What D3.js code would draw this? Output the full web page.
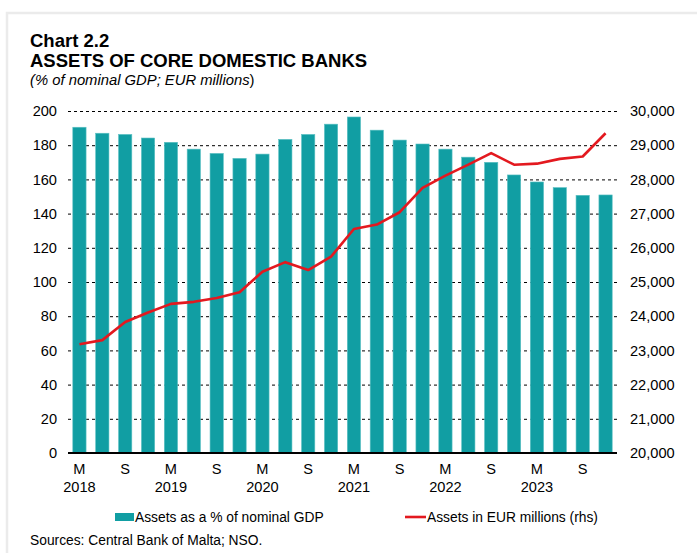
<!DOCTYPE html>
<html><head><meta charset="utf-8">
<script src="https://cdn.jsdelivr.net/npm/d3@7/dist/d3.min.js"></script>
<style>body{margin:0;background:#fff;}svg{display:block;font-family:"Liberation Sans",Arial,sans-serif;}</style>
</head><body>
<script>
const quarters = ["Mar 2018","Jun 2018","Sep 2018","Dec 2018","Mar 2019","Jun 2019","Sep 2019","Dec 2019","Mar 2020","Jun 2020","Sep 2020","Dec 2020","Mar 2021","Jun 2021","Sep 2021","Dec 2021","Mar 2022","Jun 2022","Sep 2022","Dec 2022","Mar 2023","Jun 2023","Sep 2023","Dec 2023"];
const xLabels = ["M","","S","","M","","S","","M","","S","","M","","S","","M","","S","","M","","S",""];
const yearLabels = ["2018","","","","2019","","","","2020","","","","2021","","","","2022","","","","2023","","",""];
const pctGDP = [190.5,187,186.3,184.2,181.7,177.7,175.2,172.3,174.8,183.4,186.3,192.3,196.5,188.8,183,180.7,177.7,173,170,162.6,158.5,155.2,150.7,150.9];
const assetsEUR = [23180,23300,23830,24110,24360,24420,24530,24700,25300,25580,25350,25740,26550,26680,27040,27750,28110,28430,28770,28430,28460,28600,28670,29350];
const leftTicks = [0,20,40,60,80,100,120,140,160,180,200];
const rightTicks = [20000,21000,22000,23000,24000,25000,26000,27000,28000,29000,30000];

const W=697,H=553;
const svg=d3.select("body").append("svg").attr("width",W).attr("height",H);
// frame
svg.append("path").attr("d","M7,553 L7,13 L697,13").attr("fill","none").attr("stroke","#ebebeb").attr("stroke-width",2.5);

const m={l:68,r:617,t:111,b:453};
const x=d3.scaleBand().domain(quarters).range([m.l,m.r]).paddingInner(0.42).paddingOuter(0.21);
const yL=d3.scaleLinear().domain([0,200]).range([m.b,m.t]);
const yR=d3.scaleLinear().domain([20000,30000]).range([m.b,m.t]);

// gridlines
svg.append("g").selectAll("line").data(leftTicks.filter(d=>d>0)).join("line")
  .attr("x1",m.l).attr("x2",m.r).attr("y1",d=>yL(d)+0.5).attr("y2",d=>yL(d)+0.5)
  .attr("stroke","#000").attr("stroke-width",1).attr("stroke-dasharray","3,3");

// bars
svg.append("g").selectAll("rect").data(pctGDP).join("rect")
  .attr("x",(d,i)=>x(quarters[i])).attr("width",x.bandwidth())
  .attr("y",d=>yL(d)).attr("height",d=>yL(0)-yL(d))
  .attr("fill","#119ea3").attr("stroke","#5cc0c3").attr("stroke-width",0.6);

// zero line
svg.append("line").attr("x1",m.l).attr("x2",m.r).attr("y1",m.b).attr("y2",m.b).attr("stroke","#000").attr("stroke-width",2);

// line
const line=d3.line().x((d,i)=>x(quarters[i])+x.bandwidth()/2).y(d=>yR(d));
svg.append("path").datum(assetsEUR).attr("d",line).attr("fill","none").attr("stroke","#e3191f").attr("stroke-width",2.6).attr("stroke-linejoin","round");

const FS=14.6;
// left axis
const axL=d3.axisLeft(yL).tickValues(leftTicks).tickSize(0).tickPadding(0);
const gL=svg.append("g").attr("transform",`translate(${m.l-11},0)`).call(axL);
gL.select(".domain").remove();
gL.selectAll("text").attr("font-size",FS).attr("fill","#000").attr("font-family","Liberation Sans, Arial, sans-serif");

// right axis
const axR=d3.axisRight(yR).tickValues(rightTicks).tickSize(0).tickPadding(0).tickFormat(d3.format(","));
const gR=svg.append("g").attr("transform",`translate(${m.r+13},0)`).call(axR);
gR.select(".domain").remove();
gR.selectAll("text").attr("font-size",FS).attr("fill","#000").attr("font-family","Liberation Sans, Arial, sans-serif");

// x labels
const gx=svg.append("g");
gx.selectAll("text.q").data(xLabels).join("text").attr("class","q")
  .attr("x",(d,i)=>x(quarters[i])+x.bandwidth()/2).attr("y",474).attr("text-anchor","middle")
  .attr("font-size",FS).text(d=>d);
gx.selectAll("text.yr").data(yearLabels).join("text").attr("class","yr")
  .attr("x",(d,i)=>x(quarters[i])+x.bandwidth()/2).attr("y",492).attr("text-anchor","middle")
  .attr("font-size",FS).text(d=>d);

// titles
svg.append("text").attr("x",30).attr("y",47).attr("font-size",18.5).attr("font-weight","bold").text("Chart 2.2");
svg.append("text").attr("x",30).attr("y",67).attr("font-size",18.5).attr("font-weight","bold").text("ASSETS OF CORE DOMESTIC BANKS");
const st=svg.append("text").attr("x",30).attr("y",85).attr("font-size",14.8);
st.append("tspan").attr("font-style","italic").text("(% of nominal GDP; EUR millions");
st.append("tspan").text(")");

// legend
svg.append("rect").attr("x",115).attr("y",513).attr("width",19).attr("height",8).attr("fill","#119ea3");
svg.append("text").attr("x",135).attr("y",522).attr("font-size",13.8).text("Assets as a % of nominal GDP");
svg.append("line").attr("x1",405).attr("x2",426).attr("y1",517).attr("y2",517).attr("stroke","#e3191f").attr("stroke-width",2.6);
svg.append("text").attr("x",427).attr("y",522).attr("font-size",13.8).text("Assets in EUR millions (rhs)");
svg.append("text").attr("x",30).attr("y",545).attr("font-size",13.8).text("Sources: Central Bank of Malta; NSO.");
</script>
</body></html>
